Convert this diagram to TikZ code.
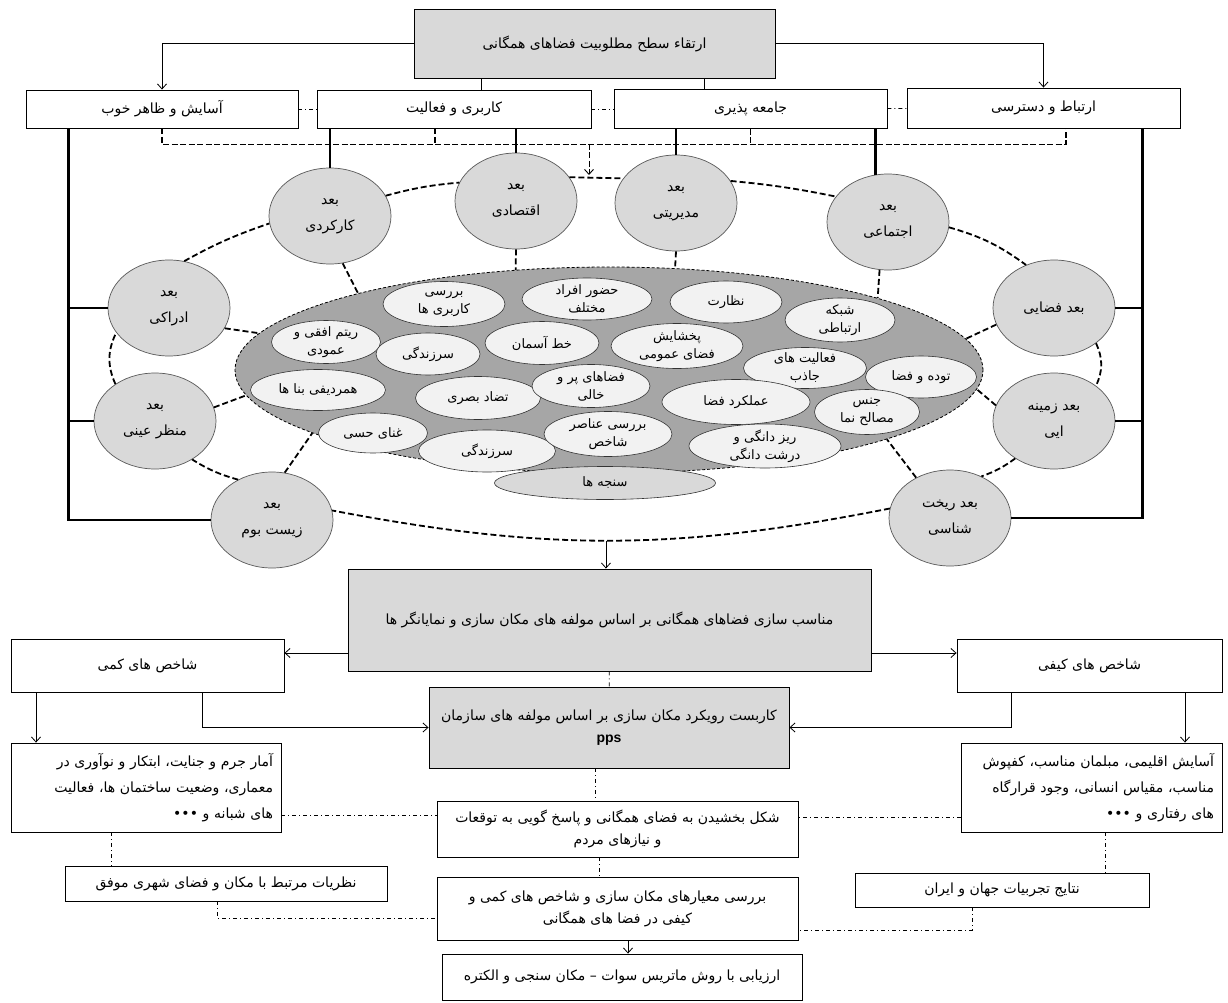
\documentclass[tikz,border=0pt]{standalone}
\usepackage{fontspec}
\usetikzlibrary{shapes.geometric,arrows.meta}
\TeXXeTstate=1
\newfontfamily\fafont[Script=Arabic]{DejaVu Sans}
\newfontfamily\latfont{Liberation Sans}
\newcommand{\fa}[1]{{\fafont\beginR #1\endR}}
\definecolor{boxgray}{HTML}{D9D9D9}
\definecolor{coregray}{HTML}{A6A6A6}
\definecolor{itemfill}{HTML}{F2F2F2}
\definecolor{rimgray}{HTML}{595959}
\tikzset{
  box/.style={draw, line width=0.9pt, fill=white, inner sep=0pt, align=center, font=\fontsize{14}{22}\selectfont},
  graybox/.style={box, fill=boxgray},
  dimcirc/.style={ellipse, draw=rimgray, line width=0.7pt, fill=boxgray, minimum width=122pt, minimum height=96pt, inner sep=0pt, align=center, font=\fontsize{14}{26}\selectfont},
  core/.style={ellipse, draw, line width=0.8pt, dash pattern=on 3pt off 2pt, fill=coregray, inner sep=0pt},
  item/.style={ellipse, draw=black!80, line width=0.6pt, fill=itemfill, inner sep=-3pt, align=center, font=\fontsize{13}{18}\selectfont},
  spine/.style={line width=2.6pt},
  ring/.style={line width=1.8pt, dash pattern=on 6pt off 3pt},
  bus/.style={line width=1.5pt, dash pattern=on 6pt off 2.5pt},
  link/.style={line width=0.8pt, dash pattern=on 4pt off 3pt on 1pt off 3pt},
  arr/.style={line width=0.8pt, -{Straight Barb[length=5pt,width=9pt]}}
}
\begin{document}
\begin{tikzpicture}[x=1pt,y=-1pt]
\path[fill=white, use as bounding box] (0,0) rectangle (1228,1003);

\node[graybox, minimum width=361pt, minimum height=69pt] (goal) at (594.5,43.5) {\fa{ارتقاء سطح مطلوبیت فضاهای همگانی}};
\node[box, minimum width=272pt, minimum height=38pt] (comfort) at (162,109) {\fa{آسایش و ظاهر خوب}};
\node[box, minimum width=274pt, minimum height=38pt] (use) at (454,109) {\fa{کاربری و فعالیت}};
\node[box, minimum width=273pt, minimum height=39pt] (social) at (750.5,109) {\fa{جامعه پذیری}};
\node[box, minimum width=273pt, minimum height=40pt] (access) at (1043.5,108) {\fa{ارتباط و دسترسی}};

\node[core, minimum width=748pt, minimum height=206pt] (core) at (609,370) {};
\node[item, minimum width=122pt, minimum height=45pt] (iUse) at (444,304) {\fa{بررسی}\\\fa{کاربری ها}};
\node[item, minimum width=130pt, minimum height=42pt] (iPeople) at (587,299) {\fa{حضور افراد}\\\fa{مختلف}};
\node[item, minimum width=112pt, minimum height=42pt] (iWatch) at (726,302) {\fa{نظارت}};
\node[item, minimum width=110pt, minimum height=44pt] (iNet) at (840,320) {\fa{شبکه}\\\fa{ارتباطی}};
\node[item, minimum width=109pt, minimum height=43pt] (iRhythm) at (326,342) {\fa{ریتم افقی و}\\\fa{عمودی}};
\node[item, minimum width=104pt, minimum height=42pt] (iLive) at (428,354) {\fa{سرزندگی}};
\node[item, minimum width=114pt, minimum height=43pt] (iSky) at (542,343) {\fa{خط آسمان}};
\node[item, minimum width=132pt, minimum height=45pt] (iSpread) at (677,346) {\fa{پخشایش}\\\fa{فضای عمومی}};
\node[item, minimum width=123pt, minimum height=41pt] (iAttract) at (805,368) {\fa{فعالیت های}\\\fa{جاذب}};
\node[item, minimum width=111pt, minimum height=42pt] (iMass) at (921,377) {\fa{توده و فضا}};
\node[item, minimum width=135pt, minimum height=41pt] (iAlign) at (318,390) {\fa{همردیفی بنا ها}};
\node[item, minimum width=125pt, minimum height=43pt] (iContrast) at (478,398) {\fa{تضاد بصری}};
\node[item, minimum width=118pt, minimum height=43pt] (iSolid) at (591,386) {\fa{فضاهای پر و}\\\fa{خالی}};
\node[item, minimum width=148pt, minimum height=45pt] (iPerf) at (736,402) {\fa{عملکرد فضا}};
\node[item, minimum width=105pt, minimum height=45pt] (iMat) at (867,412) {\fa{جنس}\\\fa{مصالح نما}};
\node[item, minimum width=109pt, minimum height=40pt] (iSense) at (373,433) {\fa{غنای حسی}};
\node[item, minimum width=137pt, minimum height=42pt] (iVital) at (487,451) {\fa{سرزندگی}};
\node[item, minimum width=128pt, minimum height=45pt] (iElem) at (608,434) {\fa{بررسی عناصر}\\\fa{شاخص}};
\node[item, minimum width=152pt, minimum height=44pt] (iGrain) at (765,446) {\fa{ریز دانگی و}\\\fa{درشت دانگی}};
\node[item, fill=boxgray, minimum width=221pt, minimum height=33pt] (measures) at (605,483) {\fa{سنجه ها}};

\node[dimcirc] (dFunc) at (330,216) {\fa{بعد}\\\fa{کارکردی}};
\node[dimcirc] (dEcon) at (516,201) {\fa{بعد}\\\fa{اقتصادی}};
\node[dimcirc] (dMgmt) at (676,203) {\fa{بعد}\\\fa{مدیریتی}};
\node[dimcirc] (dSoc) at (888,222) {\fa{بعد}\\\fa{اجتماعی}};
\node[dimcirc] (dSpace) at (1054,308) {\fa{بعد فضایی}};
\node[dimcirc] (dContext) at (1054,421) {\fa{بعد زمینه}\\\fa{ایی}};
\node[dimcirc] (dMorph) at (950,518) {\fa{بعد ریخت}\\\fa{شناسی}};
\node[dimcirc] (dEco) at (272,520) {\fa{بعد}\\\fa{زیست بوم}};
\node[dimcirc] (dView) at (155,421) {\fa{بعد}\\\fa{منظر عینی}};
\node[dimcirc] (dPercept) at (169,308) {\fa{بعد}\\\fa{ادراکی}};

\node[graybox, minimum width=523pt, minimum height=102pt] (fit) at (609.5,620) {\fa{مناسب سازی فضاهای همگانی بر اساس مولفه های مکان سازی و نمایانگر ها}};
\node[box, minimum width=273pt, minimum height=53pt] (quant) at (147.5,665.5) {\fa{شاخص های کمی}};
\node[box, minimum width=265pt, minimum height=53pt] (qual) at (1089.5,665.5) {\fa{شاخص های کیفی}};
\node[graybox, minimum width=360pt, minimum height=81pt] (apply) at (609,727.5) {\fa{کاربست رویکرد مکان سازی بر اساس مولفه های سازمان}\\{\latfont\bfseries pps}};
\node[box, minimum width=270pt, minimum height=89pt, text width=254pt, align=right, font=\fontsize{14}{26}\selectfont] (crime) at (146,787.5) {\fa{آمار جرم و جنایت، ابتکار و نوآوری در}\\\fa{معماری، وضعیت ساختمان ها، فعالیت}\\\fa{های شبانه و •••}};
\node[box, minimum width=261pt, minimum height=89pt, text width=245pt, align=right, font=\fontsize{14}{26}\selectfont] (climate) at (1091.5,787.5) {\fa{آسایش اقلیمی، مبلمان مناسب، کفپوش}\\\fa{مناسب، مقیاس انسانی، وجود قرارگاه}\\\fa{های رفتاری و •••}};
\node[box, minimum width=361pt, minimum height=56pt] (shape) at (617.5,829) {\fa{شکل بخشیدن به فضای همگانی و پاسخ گویی به توقعات}\\\fa{و نیازهای مردم}};
\node[box, minimum width=361pt, minimum height=63pt] (review) at (617.5,908.5) {\fa{بررسی معیارهای مکان سازی و شاخص های کمی و}\\\fa{کیفی در فضا های همگانی}};
\node[box, minimum width=360pt, minimum height=46pt] (eval) at (622,977) {\fa{ارزیابی با روش ماتریس سوات – مکان سنجی و الکتره}};
\node[box, minimum width=322pt, minimum height=35pt] (theory) at (226,883.5) {\fa{نظریات مرتبط با مکان و فضای شهری موفق}};
\node[box, minimum width=294pt, minimum height=34pt] (exper) at (1002,890) {\fa{نتایج تجربیات جهان و ایران}};

\draw[arr] (goal.west) -| (comfort);
\draw[arr] (goal.east) -| (access);
\coordinate (gL) at ([xshift=-113.5pt]goal.south);
\coordinate (gR) at ([xshift=109.5pt]goal.south);
\draw[line width=0.8pt] (gL) -- (gL |- use.north);
\draw[line width=0.8pt] (gR) -- (gR |- social.north);
\draw[link] (comfort) -- (use);
\draw[link] (use) -- (social);
\draw[link] (social) -- (access);

\coordinate (lspine) at ([xshift=43pt]comfort.south west);
\coordinate (rspine) at ([xshift=-38pt]access.south east);
\draw[spine] (lspine) |- (dEco);
\draw[spine] (dPercept) -- (dPercept -| lspine);
\draw[spine] (dView) -- (dView -| lspine);
\draw[spine] (rspine) |- (dMorph);
\draw[spine] (dSpace) -- (dSpace -| rspine);
\draw[spine] (dContext) -- (dContext -| rspine);
\draw[spine] (dFunc) -- (dFunc |- use.south);
\draw[spine] (dEcon) -- (dEcon |- use.south);
\draw[spine] (dMgmt) -- (dMgmt |- social.south);
\draw[spine] (dSoc.105) -- (dSoc.105 |- social.south);

\coordinate (busL) at ([yshift=-16pt]comfort.south);
\coordinate (busR) at ([xshift=22.5pt,yshift=-16pt]access.south);
\coordinate (busU) at ([xshift=-19pt]use.south);
\coordinate (busTap) at (589,144);
\coordinate (ringTop) at (589,175);
\draw[bus] (comfort.south) -- (busL) -- (busR) -- (busR |- access.south);
\draw[bus] (busU) -- (busU |- busL);
\draw[bus] (social.south) -- (social.south |- busL);
\draw[bus, line width=0.9pt, -{Straight Barb[length=5pt,width=9pt]}] (busTap) -- (ringTop);

\draw[ring] (dPercept.72) to[bend left=5] (dFunc.187);
\draw[ring] (dFunc.20) to[bend left=5] (dEcon.162);
\draw[ring] (dEcon.24) -- (dMgmt.155);
\draw[ring] (dMgmt.22) to[bend left=3] (dSoc.154);
\draw[ring] (dSoc.355) to[bend left=10] (dSpace.123);
\draw[ring] (dSpace.-40) to[bend left=25] (dContext.40);
\draw[ring] (dContext.224) to[bend left=8] (dMorph.53);
\draw[ring] (dMorph.171) to[bend left=11] coordinate[pos=0.51] (ringBot) (dEco.9);
\draw[ring] (dEco.130) to[bend left=8] (dView.314);
\draw[ring] (dView.137) to[bend left=25] (dPercept.205);

\draw[ring] (dFunc.285) -- (core.163);
\draw[ring] (dEcon.south) -- (core.133);
\draw[ring] (dMgmt.south) -- (core.57);
\draw[ring] (dSoc.260) -- (core.15);
\draw[ring] (dPercept.340) -- (core.174);
\draw[ring] (dView.13) -- (core.184);
\draw[ring] (dEco.75) -- (core.192);
\draw[ring] (dSpace.196) -- (core.5);
\draw[ring] (dContext.165) -- (core.357);
\draw[ring] (dMorph.130) -- (core.346);

\draw[arr] (ringBot) -- (ringBot |- fit.north);
\coordinate (fitL) at ([yshift=-33pt]fit.west);
\coordinate (fitR) at ([yshift=-33pt]fit.east);
\draw[arr] (fitL) -- (fitL -| quant.east);
\draw[arr] (fitR) -- (fitR -| qual.west);
\coordinate (quantA) at ([xshift=54.5pt]quant.south);
\coordinate (quantB) at ([xshift=-111.5pt]quant.south);
\coordinate (qualA) at ([xshift=-78.5pt]qual.south);
\coordinate (qualB) at ([xshift=95.5pt]qual.south);
\draw[arr] (quantA) |- (apply);
\draw[arr] (qualA) |- (apply);
\draw[arr] (quantB) -- (quantB |- crime.north);
\draw[arr] (qualB) -- (qualB |- climate.north);
\draw[link] (fit) -- (apply);
\coordinate (applyS) at ([xshift=-14pt]apply.south);
\coordinate (shapeS) at ([xshift=-18.5pt]shape.south);
\coordinate (reviewS) at ([xshift=10.5pt]review.south);
\draw[link] (applyS) -- (applyS |- shape.north);
\draw[link] (shapeS) -- (shapeS |- review.north);
\draw[arr] (reviewS) -- (reviewS |- eval.north);
\coordinate (crimeE) at ([yshift=-27.5pt]crime.east);
\coordinate (climW) at ([yshift=-29.5pt]climate.west);
\draw[link] (crimeE) -- (crimeE -| shape.west);
\draw[link] (climW) -- (climW -| shape.east);
\coordinate (crimeS) at ([xshift=-35pt]crime.south);
\coordinate (theoryS) at ([xshift=-9pt]theory.south);
\coordinate (climS) at ([xshift=13.5pt]climate.south);
\coordinate (experS) at ([xshift=-30pt]exper.south);
\draw[link] (crimeS) -- (crimeS |- theory.north);
\draw[link] (theoryS) |- ([yshift=-9.5pt]review.west);
\draw[link] (climS) -- (climS |- exper.north);
\draw[link] (experS) |- ([yshift=-21.5pt]review.east);
\end{tikzpicture}
\end{document}
